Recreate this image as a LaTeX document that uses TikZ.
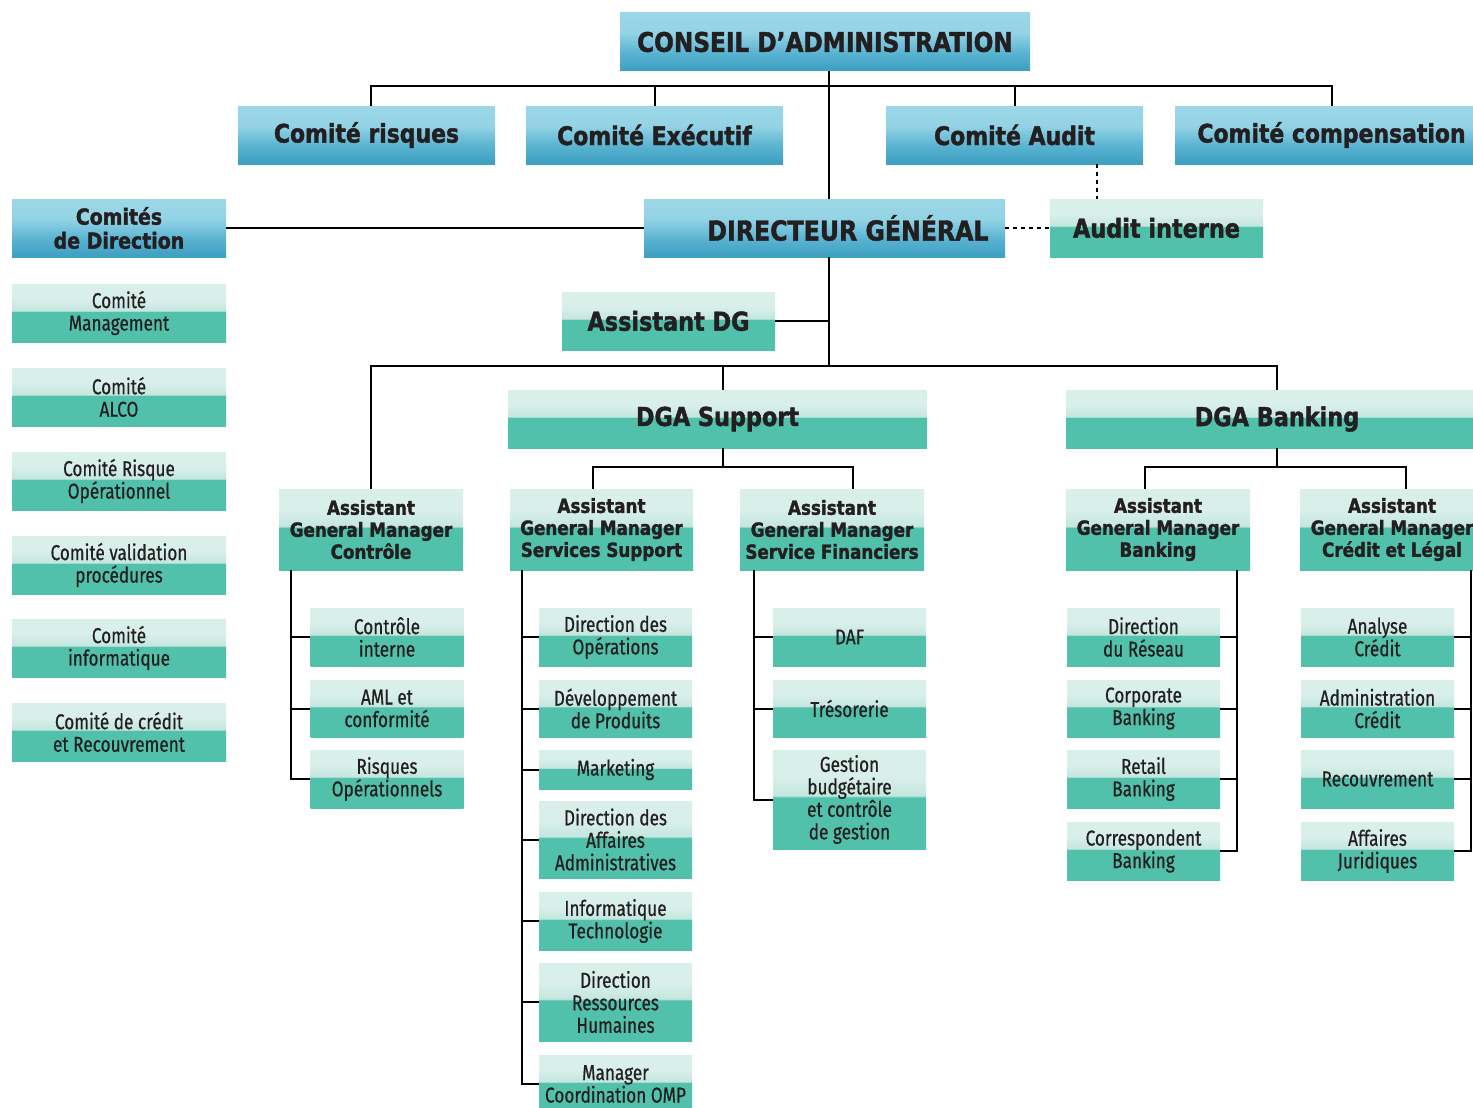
\documentclass[tikz,border=0pt]{standalone}
\usepackage{fontspec}
\setmainfont{Fira Sans}
\newfontfamily\regf[FakeStretch=0.8, FakeBold=0.6]{Fira Sans}
\newfontfamily\boldf[FakeStretch=0.86, BoldFeatures={FakeBold=1.6}]{DejaVu Sans}
\definecolor{txt}{HTML}{231F20}
\definecolor{bA}{HTML}{0C78A2}
\definecolor{bB}{HTML}{1A86AF}
\definecolor{bC}{HTML}{58B2D0}
\definecolor{bD}{HTML}{93D3E5}
\definecolor{bE}{HTML}{A9DDEA}
\definecolor{gA}{HTML}{00A98C}
\definecolor{gB}{HTML}{3CB9A0}
\definecolor{gC}{HTML}{52C1AB}
\definecolor{gD}{HTML}{C4E6DE}
\definecolor{gE}{HTML}{D8EFEA}
\definecolor{gF}{HTML}{C0E4DC}
\pgfdeclareverticalshading{blueshade}{100bp}{color(0bp)=(bA); color(6bp)=(bB); color(40bp)=(bC); color(58bp)=(bD); color(100bp)=(bE)}
\pgfdeclareverticalshading{grnshade}{100bp}{color(0bp)=(gA); color(5bp)=(gB); color(12bp)=(gC); color(51bp)=(gC); color(52bp)=(gD); color(62bp)=(gE); color(90bp)=(gE); color(100bp)=(gF)}
\tikzset{
  bluebox/.style={shade, shading=blueshade, inner sep=0pt, align=center, text=txt,
    font=\boldf\bfseries\fontsize{26}{28}\selectfont},
  grnbox/.style={shade, shading=grnshade, inner sep=0pt, align=center, text=txt},
  bigtxt/.style={font=\boldf\bfseries\fontsize{26}{28}\selectfont},
  agmtxt/.style={font=\boldf\bfseries\fontsize{19.5}{22}\selectfont},
  subtxt/.style={font=\regf\fontsize{21.5}{22.5}\selectfont},
  conn/.style={line width=2pt, black},
  dashconn/.style={line width=2pt, black, dash pattern=on 4pt off 4pt}
}
\begin{document}
\begin{tikzpicture}[x=1pt,y=-1pt]
\useasboundingbox (0,0) rectangle (1473,1108);
% ---- blue boxes
\node[bluebox, minimum width=410, minimum height=58, font=\boldf\bfseries\fontsize{27}{28}\selectfont] (cons) at (825,42) {CONSEIL D’ADMINISTRATION};
\node[bluebox, minimum width=257, minimum height=58, font=\boldf\bfseries\fontsize{25.5}{28}\selectfont] (crisk) at (366.5,135) {Comité risques};
\node[bluebox, minimum width=257, minimum height=58, font=\boldf\bfseries\fontsize{25.5}{28}\selectfont] (cexec) at (654.5,135) {Comité Exécutif};
\node[bluebox, minimum width=257, minimum height=58, font=\boldf\bfseries\fontsize{25.5}{28}\selectfont] (caudit) at (1014.5,135) {Comité Audit};
\node[bluebox, minimum width=313, minimum height=58, font=\boldf\bfseries\fontsize{25.5}{28}\selectfont] (ccomp) at (1331.5,135) {Comité compensation};
\node[bluebox, minimum width=214, minimum height=58, font=\boldf\bfseries\fontsize{22}{24}\selectfont] (cdir) at (119,228) {Comités\\de Direction};
\node[bluebox, minimum width=361, minimum height=58, font=\boldf\bfseries\fontsize{27.5}{28}\selectfont] (dg) at (824.5,228) {\hspace*{47pt}DIRECTEUR GÉNÉRAL};
% ---- green main boxes
\node[grnbox, bigtxt, minimum width=213, minimum height=58] (audint) at (1156.5,228) {Audit interne};
\node[grnbox, bigtxt, minimum width=213, minimum height=58] (adg) at (668.5,321) {Assistant DG};
\node[grnbox, bigtxt, minimum width=419, minimum height=58] (dgas) at (717.5,419) {DGA Support};
\node[grnbox, bigtxt, minimum width=422, minimum height=58] (dgab) at (1277,419) {DGA Banking};
% ---- left column
\node[grnbox, subtxt, minimum width=214, minimum height=58] (l1) at (119,313) {Comité\\Management};
\node[grnbox, subtxt, minimum width=214, minimum height=58] (l2) at (119,397) {Comité\\ALCO};
\node[grnbox, subtxt, minimum width=214, minimum height=58] (l3) at (119,481) {Comité Risque\\Opérationnel};
\node[grnbox, subtxt, minimum width=214, minimum height=58] (l4) at (119,565) {Comité validation\\procédures};
\node[grnbox, subtxt, minimum width=214, minimum height=58] (l5) at (119,648) {Comité\\informatique};
\node[grnbox, subtxt, minimum width=214, minimum height=58] (l6) at (119,732) {Comité de crédit\\et Recouvrement};
% ---- AGM boxes
\node[grnbox, agmtxt, minimum width=184, minimum height=81] (agmc) at (371,529.5) {Assistant\\General Manager\\Contrôle};
\node[grnbox, agmtxt, minimum width=183, minimum height=81] (agms) at (601.5,529.5) {Assistant\\General Manager\\Services Support};
\node[grnbox, agmtxt, minimum width=184, minimum height=81] (agmf) at (832,529.5) {Assistant\\General Manager\\Service Financiers};
\node[grnbox, agmtxt, minimum width=184, minimum height=81] (agmb) at (1158,529.5) {Assistant\\General Manager\\Banking};
\node[grnbox, agmtxt, minimum width=184, minimum height=81] (agml) at (1392,529.5) {Assistant\\General Manager\\Crédit et Légal};
% ---- Controle column
\node[grnbox, subtxt, minimum width=153, minimum height=58] (c1) at (387,637) {Contrôle\\interne};
\node[grnbox, subtxt, minimum width=153, minimum height=57] (c2) at (387,708.5) {AML et\\conformité};
\node[grnbox, subtxt, minimum width=153, minimum height=58] (c3) at (387,779) {Risques\\Opérationnels};
% ---- Support column
\node[grnbox, subtxt, minimum width=153, minimum height=58] (s1) at (615.5,637) {Direction des\\Opérations};
\node[grnbox, subtxt, minimum width=153, minimum height=57] (s2) at (615.5,708.5) {Développement\\de Produits};
\node[grnbox, subtxt, minimum width=153, minimum height=39] (s3) at (615.5,769.5) {Marketing};
\node[grnbox, subtxt, minimum width=153, minimum height=77] (s4) at (615.5,839.5) {Direction des\\Affaires\\Administratives};
\node[grnbox, subtxt, minimum width=153, minimum height=58] (s5) at (615.5,921) {Informatique\\Technologie};
\node[grnbox, subtxt, minimum width=153, minimum height=78] (s6) at (615.5,1002) {Direction\\Ressources\\Humaines};
\node[grnbox, subtxt, minimum width=153, minimum height=58] (s7) at (615.5,1084) {Manager\\Coordination OMP};
% ---- Financiers column
\node[grnbox, subtxt, minimum width=153, minimum height=58] (f1) at (849.5,637) {DAF};
\node[grnbox, subtxt, minimum width=153, minimum height=57] (f2) at (849.5,708.5) {Trésorerie};
\node[grnbox, subtxt, minimum width=153, minimum height=99] (f3) at (849.5,799.5) {Gestion\\budgétaire\\et contrôle\\de gestion};
% ---- Banking column
\node[grnbox, subtxt, minimum width=153, minimum height=58] (k1) at (1143.5,637) {Direction\\du Réseau};
\node[grnbox, subtxt, minimum width=153, minimum height=57] (k2) at (1143.5,708.5) {Corporate\\Banking};
\node[grnbox, subtxt, minimum width=153, minimum height=58] (k3) at (1143.5,779) {Retail\\Banking};
\node[grnbox, subtxt, minimum width=153, minimum height=58] (k4) at (1143.5,851) {Correspondent\\Banking};
% ---- Credit column
\node[grnbox, subtxt, minimum width=153, minimum height=58] (r1) at (1377.5,637) {Analyse\\Crédit};
\node[grnbox, subtxt, minimum width=153, minimum height=57] (r2) at (1377.5,708.5) {Administration\\Crédit};
\node[grnbox, subtxt, minimum width=153, minimum height=58] (r3) at (1377.5,779) {Recouvrement};
\node[grnbox, subtxt, minimum width=153, minimum height=58] (r4) at (1377.5,851) {Affaires\\Juridiques};
% ---- helper coordinates
\coordinate (sp) at (829,0);
\coordinate (b1) at (0,86);
\coordinate (b2) at (0,366);
\coordinate (b3) at (0,467);
\coordinate (v1) at (291,0);
\coordinate (v2) at (522,0);
\coordinate (v3) at (754,0);
\coordinate (v4) at (1237,0);
\coordinate (v5) at (1471,0);
% ---- connectors
\draw[conn] (cons.south -| sp) -- (dg.north -| sp);
\draw[conn] ([xshift=4.5]crisk.north) |- (b1 -| ccomp.north) -- (ccomp.north);
\draw[conn] (cexec.north) -- (cexec.north |- b1);
\draw[conn] (caudit.north) -- (caudit.north |- b1);
\draw[dashconn] ([xshift=82.5]caudit.south) -- ([xshift=82.5]caudit.south |- audint.north);
\draw[dashconn] (dg.east) -- (audint.west);
\draw[conn] (cdir.east) -- (dg.west);
\draw[conn] (dg.south -| sp) -- (sp |- b2);
\draw[conn] (adg.east) -- (adg.east -| sp);
\draw[conn] (agmc.north) |- (b2 -| dgab.north) -- (dgab.north);
\draw[conn] ([xshift=5.5]dgas.north) -- ([xshift=5.5]dgas.north |- b2);
\draw[conn] ([xshift=5.5]dgas.south) -- ([xshift=5.5]dgas.south |- b3);
\draw[conn] ([xshift=-8.5]agms.north) |- ([xshift=21]agmf.north |- b3) -- ([xshift=21]agmf.north);
\draw[conn] (dgab.south) -- (dgab.south |- b3);
\draw[conn] ([xshift=-13]agmb.north) |- ([xshift=14]agml.north |- b3) -- ([xshift=14]agml.north);
% sub-columns
\draw[conn] (agmc.south -| v1) |- (c3.west);
\foreach \n in {c1,c2} \draw[conn] (\n.west) -- (\n.west -| v1);
\draw[conn] (agms.south -| v2) |- (s7.west);
\foreach \n in {s1,s2,s3,s4,s5,s6} \draw[conn] (\n.west) -- (\n.west -| v2);
\draw[conn] (agmf.south -| v3) |- (f3.west);
\foreach \n in {f1,f2} \draw[conn] (\n.west) -- (\n.west -| v3);
\draw[conn] (agmb.south -| v4) |- (k4.east);
\foreach \n in {k1,k2,k3} \draw[conn] (\n.east) -- (\n.east -| v4);
\draw[conn] (agml.south -| v5) |- (r4.east);
\foreach \n in {r1,r2,r3} \draw[conn] (\n.east) -- (\n.east -| v5);
\end{tikzpicture}
\end{document}
